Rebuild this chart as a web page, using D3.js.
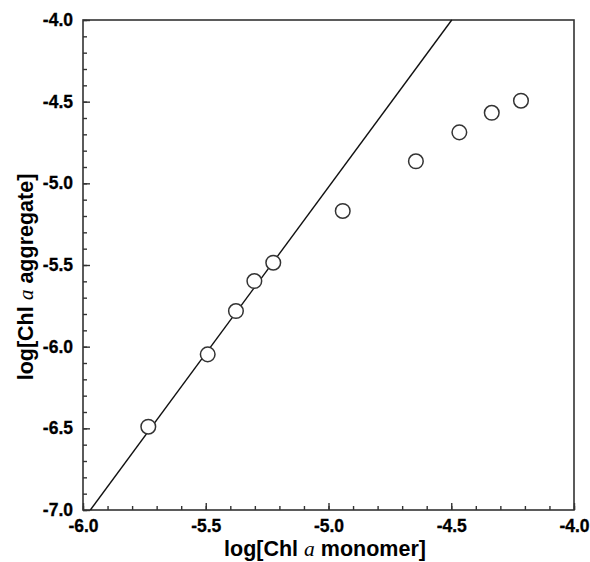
<!DOCTYPE html>
<html>
<head>
<meta charset="utf-8">
<script src="https://cdn.jsdelivr.net/npm/d3@7"></script>
<style>
  body { margin: 0; background: #fff; }
  svg { display: block; }
  .tick text { font-weight: 700; }
</style>
</head>
<body>
<svg id="chart" width="590" height="562"></svg>
<script>
// Data
const pointX = [-5.734, -5.492, -5.377, -5.302, -5.225, -4.942, -4.644, -4.467, -4.335, -4.216];
const pointY = [-6.490, -6.047, -5.782, -5.598, -5.486, -5.169, -4.865, -4.688, -4.568, -4.494];
const fitX = [-5.97, -4.498];
const fitY = [-7.0, -4.0];
const xMajorTicks = [-6.0, -5.5, -5.0, -4.5, -4.0];
const yMajorTicks = [-7.0, -6.5, -6.0, -5.5, -5.0, -4.5, -4.0];
const xTitle = "log[Chl ";
const xTitleItalic = "a";
const xTitleEnd = " monomer]";
const yTitle = "log[Chl ";
const yTitleItalic = "a";
const yTitleEnd = " aggregate]";

const svg = d3.select("#chart");
const L = 83, R = 574, T = 20, B = 510;
const x = d3.scaleLinear().domain([-6, -4]).range([L, R]);
const y = d3.scaleLinear().domain([-7, -4]).range([B, T]);

const fmt = d => d.toFixed(1);
const minor = (a, b) => d3.range(Math.round(a * 10), Math.round(b * 10) + 1).map(v => v / 10);

const font = "'Liberation Sans', Arial, Helvetica, sans-serif";
const axisColor = "#333";

// frame
svg.append("rect").attr("x", L).attr("y", T).attr("width", R - L).attr("height", B - T)
  .attr("fill", "none").attr("stroke", axisColor).attr("stroke-width", 1.6);

// minor ticks
svg.append("g").attr("transform", `translate(0,${B})`)
  .call(d3.axisBottom(x).tickValues(minor(-6, -4)).tickSize(-4).tickFormat(""))
  .call(g => g.select(".domain").remove())
  .call(g => g.selectAll("line").attr("stroke", axisColor).attr("stroke-width", 1.4));
svg.append("g").attr("transform", `translate(${L},0)`)
  .call(d3.axisLeft(y).tickValues(minor(-7, -4)).tickSize(-4).tickFormat(""))
  .call(g => g.select(".domain").remove())
  .call(g => g.selectAll("line").attr("stroke", axisColor).attr("stroke-width", 1.4));

// major ticks
function styleLabels(g) {
  g.selectAll("text")
    .style("font-family", font).style("font-weight", "700").style("font-size", "17.5px")
    .attr("fill", "#000").attr("stroke", "#000").attr("stroke-width", 0.3);
}
svg.append("g").attr("transform", `translate(0,${B})`)
  .call(d3.axisBottom(x).tickValues(xMajorTicks).tickSize(-7).tickPadding(10).tickFormat(fmt))
  .call(g => g.select(".domain").remove())
  .call(g => g.selectAll("line").attr("stroke", axisColor).attr("stroke-width", 1.4))
  .call(styleLabels);
svg.append("g").attr("transform", `translate(${L},0)`)
  .call(d3.axisLeft(y).tickValues(yMajorTicks).tickSize(-7).tickPadding(10).tickFormat(fmt))
  .call(g => g.select(".domain").remove())
  .call(g => g.selectAll("line").attr("stroke", axisColor).attr("stroke-width", 1.4))
  .call(styleLabels);

// fit line
const lineData = fitX.map((v, i) => [v, fitY[i]]);
svg.append("path").datum(lineData)
  .attr("d", d3.line().x(d => x(d[0])).y(d => y(d[1])))
  .attr("fill", "none").attr("stroke", "#111").attr("stroke-width", 1.4);

// points
svg.append("g").selectAll("circle").data(pointX.map((v, i) => [v, pointY[i]]))
  .join("circle")
  .attr("cx", d => x(d[0])).attr("cy", d => y(d[1])).attr("r", 7.3)
  .attr("fill", "#fff").attr("stroke", "#333").attr("stroke-width", 1.5);

// titles
function title(sel, a, b, c) {
  sel.style("font-family", font).style("font-weight", "700").style("font-size", "21.5px")
    .attr("fill", "#000").attr("text-anchor", "middle");
  sel.append("tspan").text(a);
  sel.append("tspan").text(b).style("font-family", "'Liberation Serif', 'Times New Roman', serif")
    .style("font-style", "italic").style("font-weight", "400");
  sel.append("tspan").text(c);
}
svg.append("text").attr("x", 325).attr("y", 556).call(title, xTitle, xTitleItalic, xTitleEnd);
svg.append("text").attr("transform", "translate(33,277) rotate(-90)").call(title, yTitle, yTitleItalic, yTitleEnd);
</script>
</body>
</html>
